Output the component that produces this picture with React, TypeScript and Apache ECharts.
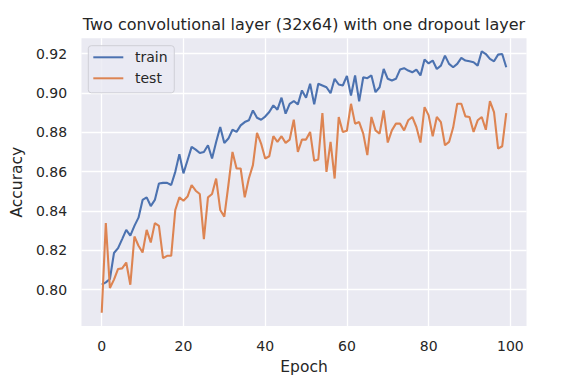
import React, { useEffect, useRef } from "react";
import * as echarts from "echarts";

const epochs: number[] = Array.from({ length: 100 }, (_, i) => i);

const trainAcc: number[] = [
  0.8025, 0.8037, 0.8054, 0.8186, 0.8211, 0.8257, 0.8304, 0.8275, 0.8324, 0.8366,
  0.8456, 0.8469, 0.8425, 0.8456, 0.854, 0.8543, 0.8543, 0.8532, 0.8599, 0.8689,
  0.8591, 0.8658, 0.8726, 0.8712, 0.8695, 0.87, 0.8734, 0.8667, 0.8751, 0.8827,
  0.8746, 0.8768, 0.8813, 0.8802, 0.8835, 0.8852, 0.8861, 0.8911, 0.8874, 0.8864,
  0.888, 0.8903, 0.8937, 0.8915, 0.8976, 0.8895, 0.8945, 0.8959, 0.8942, 0.9013,
  0.8976, 0.9047, 0.8942, 0.9047, 0.9038, 0.9029, 0.8999, 0.9072, 0.9043, 0.9038,
  0.9087, 0.8987, 0.9089, 0.8957, 0.908, 0.9075, 0.9089, 0.9004, 0.9029, 0.9122,
  0.9072, 0.9063, 0.9072, 0.9119, 0.9126, 0.9114, 0.9105, 0.9119, 0.9089, 0.917,
  0.915, 0.9165, 0.9122, 0.9139, 0.919, 0.9148, 0.9131, 0.9148, 0.9178, 0.9165,
  0.9161, 0.9156, 0.9139, 0.9212, 0.9198, 0.9173, 0.9161, 0.9195, 0.9198, 0.9131,
];

const testAcc: number[] = [
  0.7882, 0.8338, 0.8008, 0.8051, 0.8105, 0.8108, 0.8138, 0.8025, 0.827, 0.8223,
  0.8189, 0.8304, 0.824, 0.8338, 0.8324, 0.816, 0.8172, 0.8172, 0.8405, 0.8469,
  0.8452, 0.8473, 0.8532, 0.8503, 0.8486, 0.8257, 0.8469, 0.8486, 0.8565, 0.8405,
  0.8371, 0.8532, 0.87, 0.8616, 0.8616, 0.8469, 0.8565, 0.8633, 0.8797, 0.8743,
  0.8667, 0.8678, 0.878, 0.8751, 0.878, 0.8746, 0.8763, 0.8864, 0.87, 0.8763,
  0.8763, 0.8802, 0.8655, 0.8662, 0.8898, 0.8599, 0.8751, 0.8565, 0.8878, 0.8802,
  0.8808, 0.8945, 0.8844, 0.8852, 0.8793, 0.8684, 0.8878, 0.881, 0.8793, 0.8911,
  0.8748, 0.881, 0.8844, 0.8844, 0.881, 0.8861, 0.8878, 0.8827, 0.8748, 0.8928,
  0.8886, 0.878, 0.8878, 0.8852, 0.8734, 0.8751, 0.8824, 0.8945, 0.8945, 0.8881,
  0.8878, 0.8802, 0.8861, 0.8878, 0.8813, 0.8959, 0.8903, 0.8717, 0.8729, 0.8898,
];

const xTicks: number[] = [0, 20, 40, 60, 80, 100];
const yTicks: number[] = [0.8, 0.82, 0.84, 0.86, 0.88, 0.9, 0.92];

const titleText = "Two convolutional layer (32x64) with one dropout layer";
const seriesNames = ["train", "test"];

const FONT = "DejaVu Sans";
const TEXT = "#262626";
const COLORS = ["#4C72B0", "#DD8452"];

export default function App() {
  const ref = useRef<HTMLDivElement>(null);
  useEffect(() => {
    if (!ref.current) return;
    const chart = echarts.init(ref.current, undefined, { renderer: "svg" });
    chart.setOption({
      animation: false,
      backgroundColor: "#ffffff",
      textStyle: { fontFamily: FONT, color: TEXT },
      title: {
        text: titleText,
        left: 299,
        textAlign: "center",
        top: 11,
        textStyle: { fontFamily: FONT, fontSize: 16, fontWeight: "normal", color: TEXT },
      },
      grid: {
        left: 81.5,
        right: 50.5,
        top: 38.3,
        bottom: 66,
        show: true,
        backgroundColor: "#EAEAF2",
        borderWidth: 0,
      },
      legend: {
        data: seriesNames.map((n) => ({ name: n, icon: "rect" })),
        left: 88.3,
        top: 45.7,
        orient: "vertical",
        itemWidth: 30,
        itemHeight: 2,
        itemGap: 7,
        padding: [4.6, 6.7, 7.5, 5],
        backgroundColor: "rgba(234,234,242,0.8)",
        borderColor: "#CFCFD6",
        borderWidth: 1,
        borderRadius: 3,
        formatter: (name: string) => "{t|" + name + "}",
        textStyle: {
          fontFamily: FONT,
          fontSize: 14,
          lineHeight: 14,
          color: TEXT,
          rich: {
            t: {
              fontFamily: FONT,
              fontSize: 14,
              lineHeight: 14,
              color: TEXT,
              padding: [0, 0, 0, 6.7],
            },
          },
        },
      },
      xAxis: {
        type: "value",
        min: -4.95,
        max: 103.95,
        name: "Epoch",
        nameLocation: "middle",
        nameGap: 33,
        nameTextStyle: { fontFamily: FONT, fontSize: 15.5, color: TEXT },
        axisLine: { show: false },
        axisTick: { show: false, customValues: xTicks },
        axisLabel: {
          customValues: xTicks,
          margin: 13,
          fontFamily: FONT,
          fontSize: 14,
          color: TEXT,
        },
        splitLine: { show: true, lineStyle: { color: "#ffffff", width: 1.3 } },
      },
      yAxis: {
        type: "value",
        min: 0.7815,
        max: 0.9278,
        name: "Accuracy",
        nameLocation: "middle",
        nameGap: 44,
        nameTextStyle: { fontFamily: FONT, fontSize: 15.5, color: TEXT },
        axisLine: { show: false },
        axisTick: { show: false, customValues: yTicks },
        axisLabel: {
          customValues: yTicks,
          margin: 14.4,
          fontFamily: FONT,
          fontSize: 14,
          color: TEXT,
          formatter: (v: number) => v.toFixed(2),
        },
        splitLine: { show: true, lineStyle: { color: "#ffffff", width: 1.3 } },
      },
      series: [
        {
          name: seriesNames[0],
          type: "line",
          data: epochs.map((e, i) => [e, trainAcc[i]]),
          symbol: "none",
          lineStyle: { color: COLORS[0], width: 2.1 },
          itemStyle: { color: COLORS[0] },
        },
        {
          name: seriesNames[1],
          type: "line",
          data: epochs.map((e, i) => [e, testAcc[i]]),
          symbol: "none",
          lineStyle: { color: COLORS[1], width: 2.1 },
          itemStyle: { color: COLORS[1] },
        },
      ],
    });
    return () => chart.dispose();
  }, []);
  return <div ref={ref} style={{ width: 577, height: 392, margin: -8 }} />;
}
